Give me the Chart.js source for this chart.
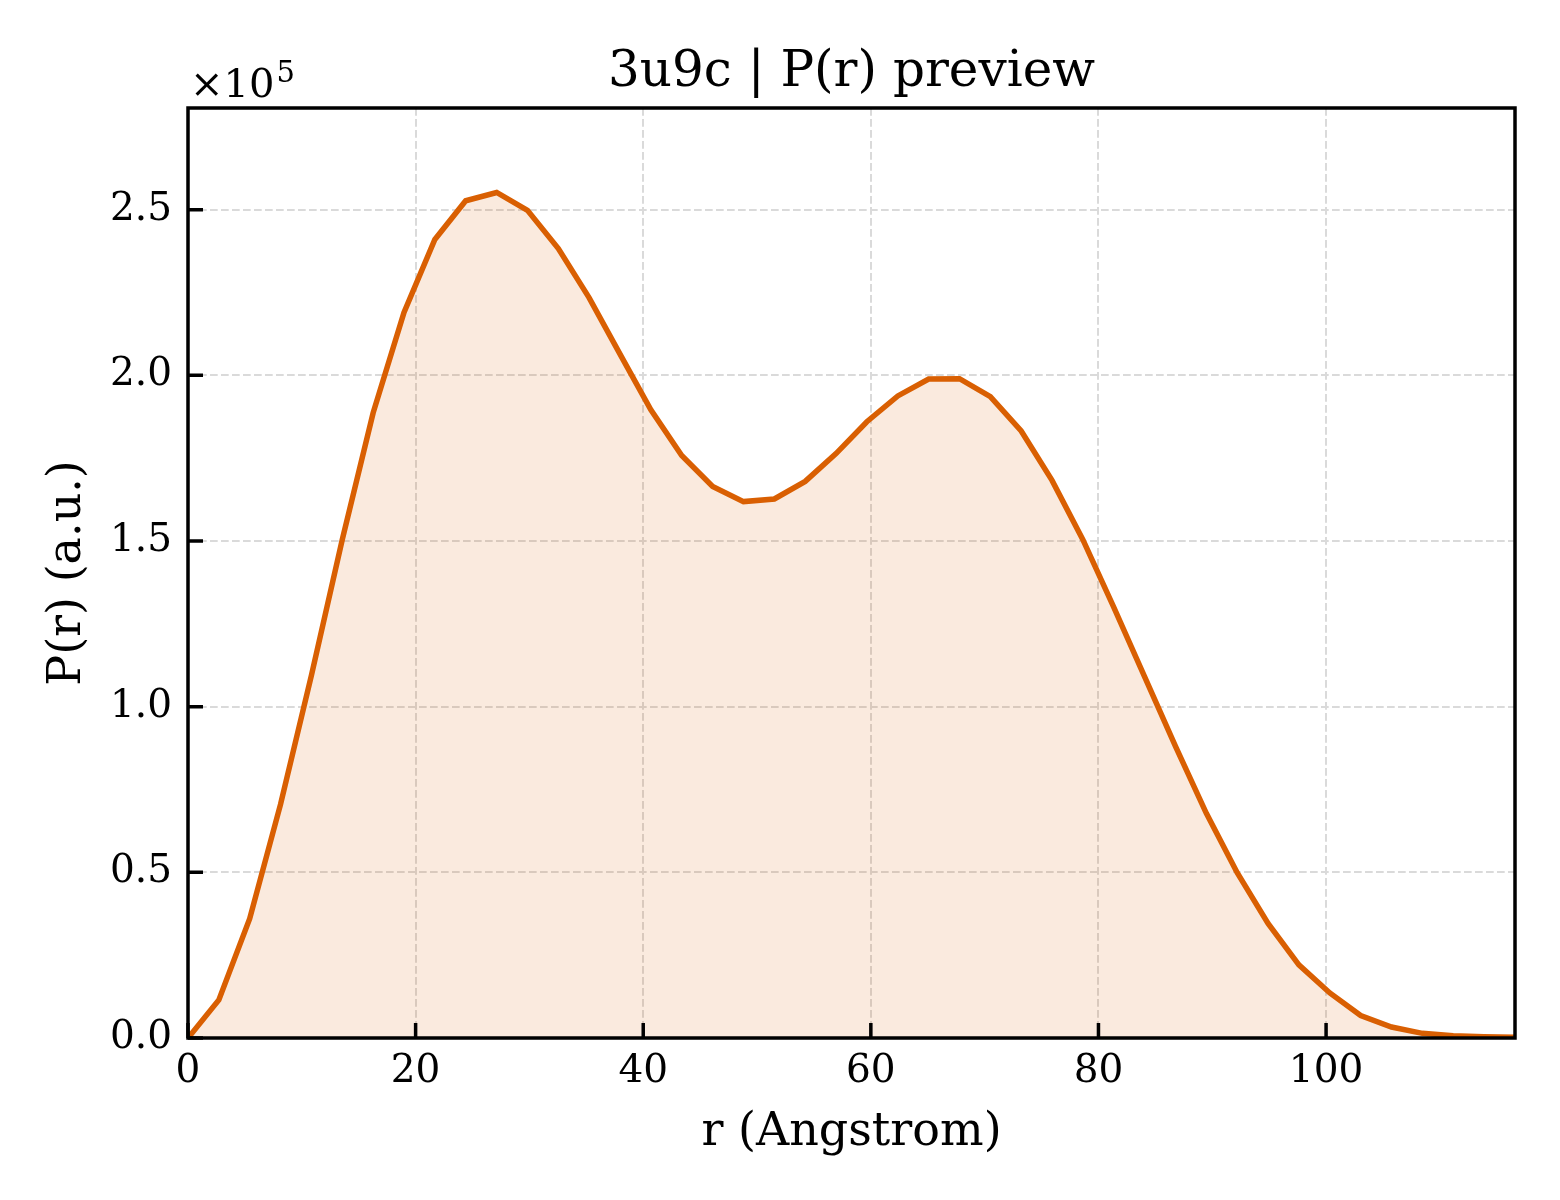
<!DOCTYPE html>
<html>
<head>
<meta charset="utf-8">
<title>3u9c | P(r) preview</title>
<script src="https://cdn.jsdelivr.net/npm/chart.js@4.4.1/dist/chart.umd.min.js"></script>
<style>
    html, body { margin: 0; padding: 0; background: #ffffff; }
    #grafico { display: block; }
</style>
</head>
<body>
<canvas id="grafico" width="1560" height="1200"></canvas>
<script>
// Datos (r en Angstrom, P(r) en unidades arbitrarias)
const radios = [0, 2.71, 5.42, 8.13, 10.85, 13.56, 16.27, 18.98, 21.69, 24.40, 27.12,
    29.83, 32.54, 35.25, 37.96, 40.67, 43.38, 46.10, 48.81, 51.52, 54.23, 56.94,
    59.65, 62.37, 65.08, 67.79, 70.50, 73.21, 75.92, 78.63, 81.35, 84.06, 86.77,
    89.48, 92.19, 94.90, 97.61, 100.33, 103.04, 105.75, 108.46, 111.17, 113.88, 116.60];
const valoresPr = [0, 11500, 36000, 70500, 109500, 150500, 188700, 219000, 241000, 252700, 255200,
    249800, 238300, 223400, 206400, 189600, 175800, 166500, 161900, 162700, 168000, 176400,
    186000, 193800, 198900, 199000, 193600, 183200, 168300, 150400, 130000, 109000, 88000,
    67800, 49900, 34600, 22100, 13600, 6800, 3300, 1400, 700, 400, 200];
const ticksX = [0, 20, 40, 60, 80, 100];
const ticksY = [0, 50000, 100000, 150000, 200000, 250000];
const limiteX = 116.6;
const limiteY = 280700;
const escalaY = 100000;

const tituloGrafico = "3u9c | P(r) preview";
const etiquetaX = "r (Angstrom)";
const etiquetaY = "P(r) (a.u.)";

const fuente = '"DejaVu Serif", serif';

document.addEventListener("DOMContentLoaded", () => {
    // Marco, ticks hacia adentro, titulo y el "x10^5" del eje y
    const marcoPlugin = {
        id: "marco",
        afterDraw(chart) {
            const ctx = chart.ctx;
            const area = chart.chartArea;
            const sx = chart.scales.x;
            const sy = chart.scales.y;
            ctx.save();
            ctx.strokeStyle = "#000";
            ctx.lineWidth = 3.5;
            ctx.beginPath();
            sx.ticks.forEach(t => {
                const px = sx.getPixelForValue(t.value);
                ctx.moveTo(px, area.bottom);
                ctx.lineTo(px, area.bottom - 15);
            });
            sy.ticks.forEach(t => {
                const py = sy.getPixelForValue(t.value);
                ctx.moveTo(area.left, py);
                ctx.lineTo(area.left + 15, py);
            });
            ctx.stroke();
            ctx.strokeRect(area.left, area.top, area.right - area.left, area.bottom - area.top);

            ctx.fillStyle = "#000";
            ctx.textBaseline = "alphabetic";
            ctx.textAlign = "center";
            ctx.font = "50px " + fuente;
            ctx.fillText(tituloGrafico, (area.left + area.right) / 2, 86);

            ctx.textAlign = "left";
            ctx.font = "40px " + fuente;
            ctx.fillText("×10", area.left + 2, 97);
            const ancho = ctx.measureText("×10").width;
            ctx.font = "29px " + fuente;
            ctx.fillText("5", area.left + 4 + ancho, 82);
            ctx.restore();
        }
    };

    const ctx = document.getElementById("grafico").getContext("2d");
    new Chart(ctx, {
        type: "line",
        data: {
            datasets: [{
                label: "P(r)",
                data: radios.map((r, i) => ({ x: r, y: valoresPr[i] })),
                borderColor: "#d95f02",
                backgroundColor: "rgba(217, 95, 2, 0.13)",
                borderWidth: 5.5,
                fill: "origin",
                pointRadius: 0,
                tension: 0,
            }]
        },
        options: {
            responsive: false,
            devicePixelRatio: 1,
            animation: false,
            layout: { padding: { left: 0, right: 45, top: 108, bottom: 0 } },
            plugins: {
                legend: { display: false },
                tooltip: { enabled: false },
            },
            scales: {
                x: {
                    type: "linear",
                    min: 0,
                    max: limiteX,
                    afterFit: s => { s.height = 162; },
                    afterBuildTicks: s => { s.ticks = ticksX.map(v => ({ value: v })); },
                    grid: { color: "#dadada", lineWidth: 2, drawTicks: false },
                    border: { display: false, dash: [7.7, 3.3] },
                    ticks: {
                        color: "#000",
                        font: { family: fuente, size: 39 },
                        padding: 10,
                        maxRotation: 0,
                        autoSkip: false,
                    },
                    title: {
                        display: true,
                        text: etiquetaX,
                        color: "#000",
                        font: { family: fuente, size: 46 },
                        padding: { top: 0, bottom: 39 },
                    },
                },
                y: {
                    min: 0,
                    max: limiteY,
                    afterFit: s => { s.width = 188; },
                    afterBuildTicks: s => { s.ticks = ticksY.map(v => ({ value: v })); },
                    grid: { color: "#dadada", lineWidth: 2, drawTicks: false },
                    border: { display: false, dash: [7.7, 3.3] },
                    ticks: {
                        color: "#000",
                        font: { family: fuente, size: 39 },
                        padding: 16,
                        callback: v => (v / escalaY).toFixed(1),
                    },
                    title: {
                        display: true,
                        text: etiquetaY,
                        color: "#000",
                        font: { family: fuente, size: 46 },
                        padding: { top: 40, bottom: 0 },
                    },
                },
            },
        },
        plugins: [marcoPlugin],
    });
});
</script>
</body>
</html>
